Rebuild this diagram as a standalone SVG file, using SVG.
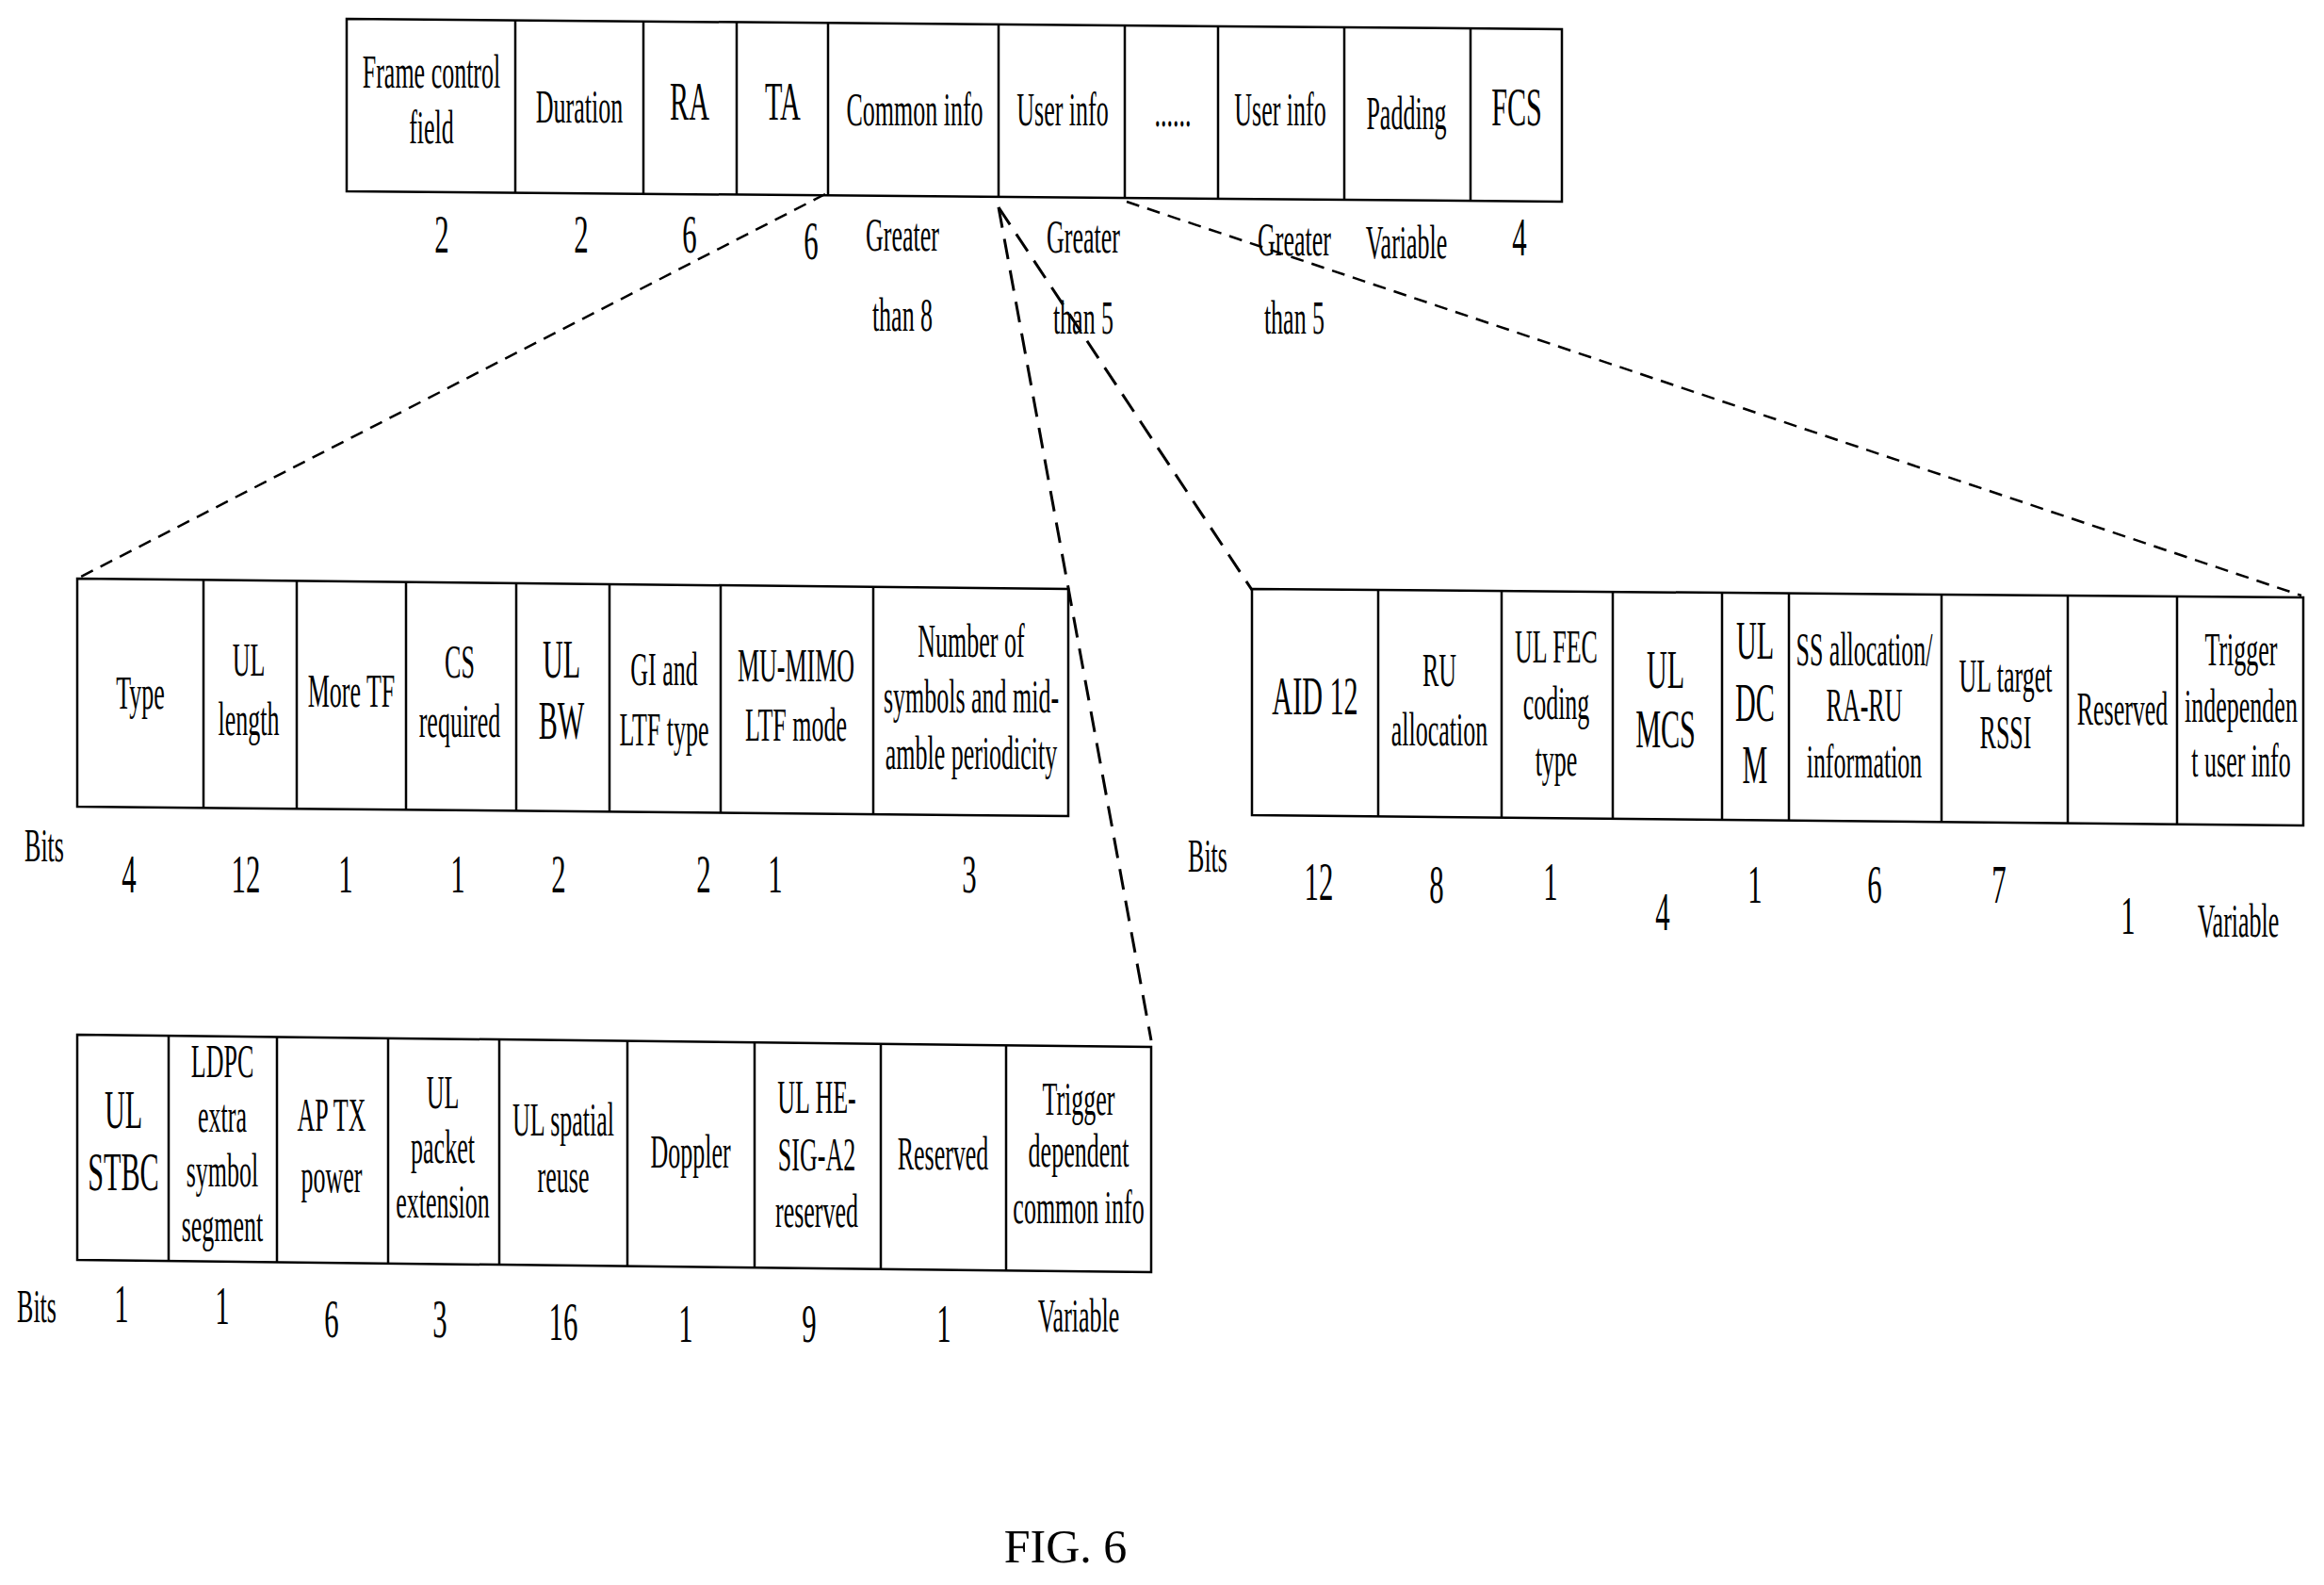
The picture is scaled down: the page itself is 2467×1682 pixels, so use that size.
<svg xmlns="http://www.w3.org/2000/svg" width="2467" height="1682" viewBox="0 0 2467 1682">
<style>
.b{fill:none;stroke:#000;stroke-width:2.5}
.d{fill:none;stroke:#000;stroke-width:2.5;stroke-dasharray:14,9}
.dl{fill:none;stroke:#000;stroke-width:3;stroke-dasharray:22,12}
text{font-family:"Liberation Serif","Times New Roman",serif;font-size:50px;text-anchor:middle;fill:#000}
.n{font-size:56px}
.g{font-size:58px}
</style>
<rect width="2467" height="1682" fill="#fff"/>
<g id="connectors">
<line class="d" x1="876" y1="206" x2="82" y2="614"/>
<line class="dl" x1="1060" y1="220" x2="1222" y2="1104"/>
<line class="dl" x1="1060" y1="220" x2="1329" y2="626"/>
<line class="d" x1="1196" y1="214" x2="2443" y2="632"/>
</g>
<g id="frame">
<polygon class="b" points="368,20 1658,31 1658,214 368,203"/>
<path class="b" d="M547,21.5V204.5M683,23V206M782,23.5V207M879,24.5V207.5M1060,26V209M1194,27V210M1293,28V211M1427,29V212M1561,30V213"/>
<text transform="translate(458,93) scale(.52,1)">Frame control<tspan x="0" dy="59">field</tspan></text>
<text transform="translate(615,130) scale(.52,1)">Duration</text>
<text transform="translate(732,127) scale(.52,1)" class="g">RA</text>
<text transform="translate(831,127) scale(.52,1)" class="g">TA</text>
<text transform="translate(971,133) scale(.52,1)">Common info</text>
<text transform="translate(1128,133) scale(.52,1)">User info</text>
<text transform="translate(1245,134) scale(.52,1)">......</text>
<text transform="translate(1359,133) scale(.52,1)">User info</text>
<text transform="translate(1493,137) scale(.52,1)">Padding</text>
<text transform="translate(1610,133) scale(.52,1)" class="g">FCS</text>
<text transform="translate(469,268) scale(.55,1)" class="n">2</text>
<text transform="translate(617,268) scale(.55,1)" class="n">2</text>
<text transform="translate(732,268) scale(.55,1)" class="n">6</text>
<text transform="translate(861,275) scale(.55,1)" class="n">6</text>
<text transform="translate(958,266) scale(.52,1)">Greater<tspan x="0" dy="85">than 8</tspan></text>
<text transform="translate(1150,268) scale(.52,1)">Greater<tspan x="0" dy="86">than 5</tspan></text>
<text transform="translate(1374,271) scale(.52,1)">Greater<tspan x="0" dy="83">than 5</tspan></text>
<text transform="translate(1493,274) scale(.52,1)">Variable</text>
<text transform="translate(1613,271) scale(.55,1)" class="n">4</text>
</g>
<g id="common-info">
<polygon class="b" points="82,614 1134,625 1134,866 82,856"/>
<path class="b" d="M216,615.4V857M315,616.4V858M431,617.6V859M548,618.9V860M647,619.9V861M765,621.1V862M927,622.8V864"/>
<text transform="translate(149,752) scale(.52,1)">Type</text>
<text transform="translate(264,717) scale(.52,1)">UL<tspan x="0" dy="63">length</tspan></text>
<text transform="translate(373,750) scale(.52,1)">More TF</text>
<text transform="translate(488,719) scale(.52,1)">CS<tspan x="0" dy="63">required</tspan></text>
<text transform="translate(596,719) scale(.52,1)" class="g">UL<tspan x="0" dy="65">BW</tspan></text>
<text transform="translate(705,727) scale(.52,1)">GI and<tspan x="0" dy="64">LTF type</tspan></text>
<text transform="translate(845,723) scale(.52,1)">MU-MIMO<tspan x="0" dy="63">LTF mode</tspan></text>
<text transform="translate(1031,697) scale(.52,1)">Number of<tspan x="0" dy="59">symbols and mid-</tspan><tspan x="0" dy="60">amble periodicity</tspan></text>
<text transform="translate(47,914) scale(.52,1)">Bits</text>
<text transform="translate(137,947) scale(.55,1)" class="n">4</text>
<text transform="translate(261,947) scale(.55,1)" class="n">12</text>
<text transform="translate(367,947) scale(.55,1)" class="n">1</text>
<text transform="translate(486,947) scale(.55,1)" class="n">1</text>
<text transform="translate(593,947) scale(.55,1)" class="n">2</text>
<text transform="translate(747,947) scale(.55,1)" class="n">2</text>
<text transform="translate(823,947) scale(.55,1)" class="n">1</text>
<text transform="translate(1029,947) scale(.55,1)" class="n">3</text>
</g>
<g id="user-info">
<polygon class="b" points="1329,625 2445,634 2445,876 1329,865"/>
<path class="b" d="M1463,626V866M1594,627V868M1712,628V869M1828,629V870M1899,630V871M2061,631V872M2195,632V873M2311,633V875"/>
<text transform="translate(1396,758) scale(.52,1)" class="g">AID 12</text>
<text transform="translate(1528,728) scale(.52,1)">RU<tspan x="0" dy="63">allocation</tspan></text>
<text transform="translate(1652,703) scale(.52,1)">UL FEC<tspan x="0" dy="60">coding</tspan><tspan x="0" dy="60">type</tspan></text>
<text transform="translate(1768,730) scale(.52,1)" class="g">UL<tspan x="0" dy="63">MCS</tspan></text>
<text transform="translate(1863,699) scale(.52,1)" class="g">UL<tspan x="0" dy="66">DC</tspan><tspan x="0" dy="66">M</tspan></text>
<text transform="translate(1979,706) scale(.52,1)">SS allocation/<tspan x="0" dy="59">RA-RU</tspan><tspan x="0" dy="60">information</tspan></text>
<text transform="translate(2129,734) scale(.52,1)">UL target<tspan x="0" dy="60">RSSI</tspan></text>
<text transform="translate(2253,769) scale(.52,1)">Reserved</text>
<text transform="translate(2379,706) scale(.52,1)">Trigger<tspan x="0" dy="60">independen</tspan><tspan x="0" dy="58">t user info</tspan></text>
<text transform="translate(1282,925) scale(.52,1)">Bits</text>
<text transform="translate(1400,955) scale(.55,1)" class="n">12</text>
<text transform="translate(1525,958) scale(.55,1)" class="n">8</text>
<text transform="translate(1646,955) scale(.55,1)" class="n">1</text>
<text transform="translate(1765,987) scale(.55,1)" class="n">4</text>
<text transform="translate(1863,958) scale(.55,1)" class="n">1</text>
<text transform="translate(1990,958) scale(.55,1)" class="n">6</text>
<text transform="translate(2122,958) scale(.55,1)" class="n">7</text>
<text transform="translate(2259,991) scale(.55,1)" class="n">1</text>
<text transform="translate(2376,994) scale(.52,1)">Variable</text>
</g>
<g id="common-info-2">
<polygon class="b" points="82,1098 1222,1111 1222,1350 82,1337"/>
<path class="b" d="M179,1099V1338M294,1100.4V1339.4M412,1101.8V1340.8M530,1103V1342M666,1104.7V1343.7M801,1106V1345M935,1107.7V1346.7M1068,1109V1348"/>
<text transform="translate(131,1197) scale(.52,1)" class="g">UL<tspan x="0" dy="66">STBC</tspan></text>
<text transform="translate(236,1143) scale(.52,1)">LDPC<tspan x="0" dy="58">extra</tspan><tspan x="0" dy="58">symbol</tspan><tspan x="0" dy="58">segment</tspan></text>
<text transform="translate(352,1200) scale(.52,1)">AP TX<tspan x="0" dy="65">power</tspan></text>
<text transform="translate(470,1176) scale(.52,1)">UL<tspan x="0" dy="58">packet</tspan><tspan x="0" dy="58">extension</tspan></text>
<text transform="translate(598,1205) scale(.52,1)">UL spatial<tspan x="0" dy="60">reuse</tspan></text>
<text transform="translate(733,1239) scale(.52,1)">Doppler</text>
<text transform="translate(867,1181) scale(.52,1)">UL HE-<tspan x="0" dy="61">SIG-A2</tspan><tspan x="0" dy="60">reserved</tspan></text>
<text transform="translate(1001,1241) scale(.52,1)">Reserved</text>
<text transform="translate(1145,1183) scale(.52,1)">Trigger<tspan x="0" dy="55">dependent</tspan><tspan x="0" dy="60">common info</tspan></text>
<text transform="translate(39,1403) scale(.52,1)">Bits</text>
<text transform="translate(129,1403) scale(.55,1)" class="n">1</text>
<text transform="translate(236,1405) scale(.55,1)" class="n">1</text>
<text transform="translate(352,1419) scale(.55,1)" class="n">6</text>
<text transform="translate(467,1419) scale(.55,1)" class="n">3</text>
<text transform="translate(598,1422) scale(.55,1)" class="n">16</text>
<text transform="translate(728,1424) scale(.55,1)" class="n">1</text>
<text transform="translate(859,1424) scale(.55,1)" class="n">9</text>
<text transform="translate(1002,1424) scale(.55,1)" class="n">1</text>
<text transform="translate(1145,1413) scale(.52,1)">Variable</text>
</g>
<text x="1131" y="1658">FIG. 6</text>
</svg>
